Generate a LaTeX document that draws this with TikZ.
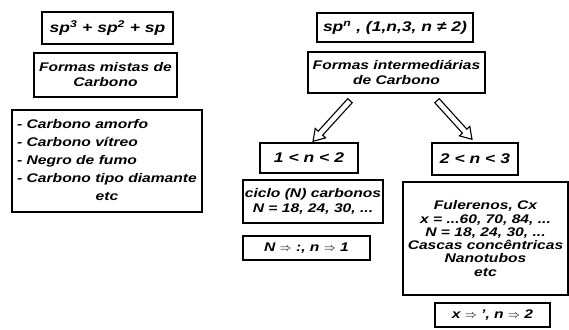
\documentclass[tikz,border=0pt]{standalone}
\usepackage{fontspec}
\setmainfont{Liberation Sans}[FakeStretch=1.25]
\usetikzlibrary{calc}
\newcommand\myarr{\ensuremath{\Rightarrow}}
\newcommand\hollowarr[2]{%
  \coordinate (hb) at ($(#2)!11pt!(#1)$);
  \draw[hollow] ($(#1)!3pt!90:(#2)$) -- ($(hb)!3pt!90:(#2)$) -- ($(hb)!7pt!90:(#2)$)
    -- (#2) -- ($(hb)!7pt!-90:(#2)$) -- ($(hb)!3pt!-90:(#2)$) -- ($(#1)!3pt!-90:(#2)$) -- cycle;
}
\begin{document}
\begin{tikzpicture}[x=1pt,y=-1pt,
  box/.style={draw, line width=1.4pt, inner sep=0pt, align=center,
    font=\bfseries\itshape\fontsize{12.5}{15}\selectfont},
  bigtxt/.style={font=\bfseries\itshape\fontsize{14}{16}\selectfont},
  hollow/.style={draw, line width=1.1pt, fill=white, line join=miter}]
\useasboundingbox (0,0) rectangle (569,329);

% left column
\node[box, bigtxt, minimum width=131pt, minimum height=32pt] (A) at (107.5,28)
  {sp\textsuperscript{3} + sp\textsuperscript{2} + sp};
\node[box, minimum width=143pt, minimum height=44pt] (B) at (105.5,75)
  {Formas mistas de\\Carbono};
\node[box, minimum width=190pt, minimum height=102pt,
  font=\bfseries\itshape\fontsize{12.5}{18}\selectfont] (C) at (107,161)
  {\begin{tabular}{@{}l@{}}
   - Carbono amorfo\\
   - Carbono vítreo\\
   - Negro de fumo\\
   - Carbono tipo diamante\\
   \multicolumn{1}{c}{etc}
   \end{tabular}};

% right part
\node[box, bigtxt, minimum width=156pt, minimum height=29pt] (D) at (395,27.5)
  {sp\textsuperscript{n} , (1,n,3, n ≠ 2)};
\node[box, minimum width=177pt, minimum height=41pt] (E) at (396.5,72.5)
  {Formas intermediárias\\de Carbono};
\node[box, bigtxt, minimum width=98pt, minimum height=30pt] (F) at (309,158)
  {1 < n < 2};
\node[box, minimum width=140pt, minimum height=43pt] (G) at (313,201.5)
  {ciclo (N) carbonos\\N = 18, 24, 30, ...};
\node[box, minimum width=127pt, minimum height=24pt] (H) at (306.5,248)
  {N \myarr{} :, n \myarr{} 1};
\node[box, bigtxt, minimum width=86pt, minimum height=32pt] (I) at (475,159)
  {2 < n < 3};
\node[box, minimum width=165pt, minimum height=113pt,
  font=\bfseries\itshape\fontsize{12.5}{13.3}\selectfont] (J) at (485.5,238.5)
  {Fulerenos, Cx\\x = ...60, 70, 84, ...\\N = 18, 24, 30, ...\\Cascas concêntricas\\Nanotubos\\etc};
\node[box, minimum width=115pt, minimum height=24pt] (K) at (492.5,315)
  {x \myarr{} ', n \myarr{} 2};

% hollow arrows
\coordinate (a1s) at ($(E.south)+(-46.5,7)$);
\coordinate (a1e) at ($(F.north)+(4,-1)$);
\coordinate (a2s) at ($(E.south)+(40.5,7)$);
\coordinate (a2e) at ($(I.north)+(-3,-3)$);
\hollowarr{a1s}{a1e}
\hollowarr{a2s}{a2e}
\end{tikzpicture}
\end{document}
